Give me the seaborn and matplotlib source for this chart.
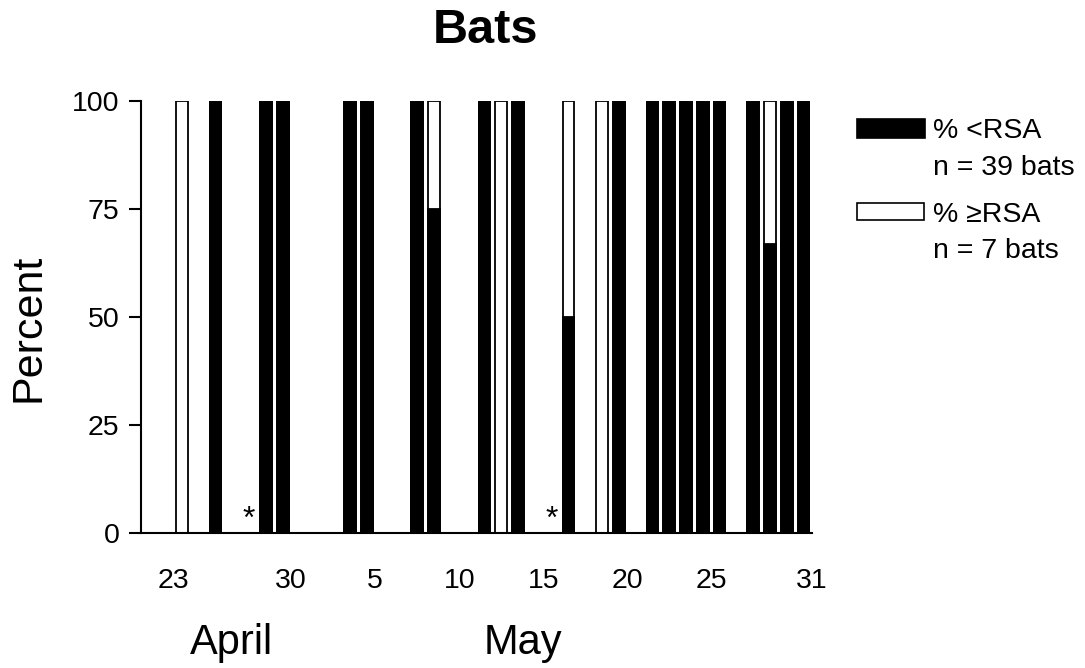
import pandas as pd
import matplotlib.pyplot as plt
from matplotlib.patches import Rectangle
import seaborn as sns

# dias com captura (mes-dia), inicio da serie em 23 de abril
start_day = "04-23"
bar_days = ["04-23", "04-25", "04-28", "04-29", "05-03", "05-04", "05-07", "05-08",
            "05-11", "05-12", "05-13", "05-16", "05-18", "05-19", "05-21", "05-22",
            "05-23", "05-24", "05-25", "05-27", "05-28", "05-29", "05-30"]
pct_below = [0, 100, 100, 100, 100, 100, 100, 75, 100, 0, 100, 50, 0, 100,
             100, 100, 100, 100, 100, 100, 67, 100, 100]
pct_above = [100, 0, 0, 0, 0, 0, 0, 25, 0, 100, 0, 50, 100, 0,
             0, 0, 0, 0, 0, 0, 33, 0, 0]
star_days = ["04-27", "05-15"]
tick_days = ["04-23", "04-30", "05-05", "05-10", "05-15", "05-20", "05-25", "05-31"]
tick_labels = ["23", "30", "5", "10", "15", "20", "25", "31"]
y_ticks = [0, 25, 50, 75, 100]
legend_labels = ["% <RSA", "n = 39 bats", "% \u2265RSA", "n = 7 bats"]


def day_index(md):
    d = pd.Timestamp("2000-" + md) - pd.Timestamp("2000-" + start_day)
    return d.days


df = pd.DataFrame({"day": [day_index(d) for d in bar_days],
                   "below": pct_below, "above": pct_above})
df["total"] = df["below"] + df["above"]

sns.set_style("ticks")
plt.rcParams['font.family'] = ['Liberation Sans', 'DejaVu Sans']
plt.rcParams.update({"text.color": "black", "axes.labelcolor": "black",
                     "xtick.color": "black", "ytick.color": "black",
                     "axes.edgecolor": "black"})

fig = plt.figure(figsize=(10.85, 6.68), dpi=100)
ax = fig.add_axes([141 / 1085, 1 - 533 / 668, 671 / 1085, 432 / 668])

# barras brancas (total) e pretas (parte <RSA) por cima
sns.barplot(data=df, x="day", y="total", native_scale=True, width=0.7,
            color="white", edgecolor="black", linewidth=1.3, saturation=1,
            errorbar=None, ax=ax)
sns.barplot(data=df, x="day", y="below", native_scale=True, width=0.7,
            color="black", edgecolor="black", linewidth=1.3, saturation=1,
            errorbar=None, ax=ax)

for sd in star_days:
    ax.text(day_index(sd), 1.2, "*", ha="center", va="baseline", fontsize=23)

ax.set_xlim(-2.44, 37.5)
ax.set_ylim(0, 100)
ax.set_xticks([day_index(t) - 0.5 for t in tick_days])
ax.set_xticklabels(tick_labels)
ax.set_yticks(y_ticks)
ax.tick_params(axis="x", length=0, pad=25, labelsize=20.5)
ax.tick_params(axis="y", direction="out", length=8.5, width=1.5, pad=7, labelsize=20.5)
ax.set_xlabel("")
ax.set_ylabel("Percent", fontsize=31, va="center")
ax.yaxis.set_label_coords((29 - 141) / 671, (533 - 328) / 432)
for s in ["top", "right"]:
    ax.spines[s].set_visible(False)
for s in ["left", "bottom"]:
    ax.spines[s].set_linewidth(1.5)

fig.text(485 / 1085, 1 - 43 / 668, "Bats", ha="center", va="baseline",
         fontsize=35, fontweight="bold")
fig.text(231 / 1085, 1 - 654 / 668, "April", ha="center", va="baseline", fontsize=30)
fig.text(523 / 1085, 1 - 654 / 668, "May", ha="center", va="baseline", fontsize=30)

# legenda manual
fig.patches.append(Rectangle((857 / 1085, 1 - 138 / 668), 68 / 1085, 19 / 668,
                             transform=fig.transFigure, facecolor="black",
                             edgecolor="black", linewidth=1.2))
fig.patches.append(Rectangle((857 / 1085, 1 - 220 / 668), 67 / 1085, 17 / 668,
                             transform=fig.transFigure, facecolor="white",
                             edgecolor="black", linewidth=1.2))
for lab, yb in zip(legend_labels, [138, 175, 222, 258]):
    fig.text(933 / 1085, 1 - yb / 668, lab, ha="left", va="baseline", fontsize=20.5)

fig.savefig("out.png", dpi=100)
